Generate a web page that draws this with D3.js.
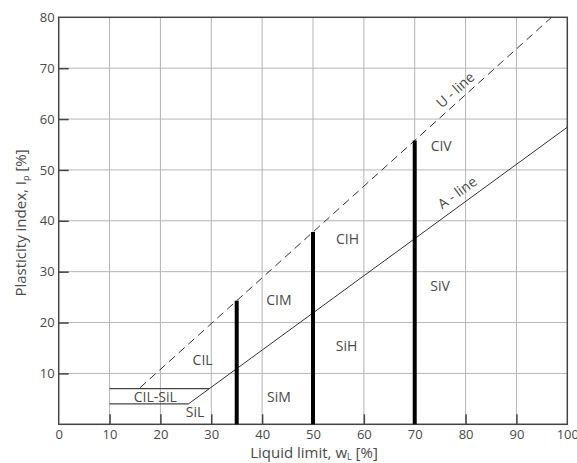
<!DOCTYPE html>
<html lang="en">
<head>
    <meta charset="UTF-8">
    <script src="https://d3js.org/d3.v7.min.js"></script>
    <title>Plasticity chart</title>
    <style>
        body {
            margin: 0;
            padding: 0;
            background-color: white;
            font-family: "Open Sans", Arial, sans-serif;
        }
        svg text {
            fill: #4a4a4a;
        }
    </style>
</head>
<body>
    <svg id="chart" width="577" height="463"></svg>
    <script>
        // axis ticks
        const xTicks = [0, 10, 20, 30, 40, 50, 60, 70, 80, 90, 100];
        const yTicks = [10, 20, 30, 40, 50, 60, 70, 80];

        // U-line and A-line (liquid limit, plasticity index)
        const uLine = [[16, 7.2], [96.9, 80]];
        const aLine = [[25.5, 4.0], [100, 58.4]];

        // horizontal limits of the CL-ML band
        const bandLines = [
            [[10, 7], [29.6, 7]],
            [[10, 4], [25.5, 4]]
        ];

        // thick boundaries: liquid limit, top plasticity index (on U-line)
        const boundaries = [[35, 24.3], [50, 37.8], [70, 55.8]];

        // zone labels
        const zones = [
            {name: "CIL", x: 28.3, y: 12.8},
            {name: "CIL-SiL", x: 19.0, y: 5.5},
            {name: "SiL", x: 26.8, y: 2.5},
            {name: "CIM", x: 43.3, y: 24.5},
            {name: "SiM", x: 43.3, y: 5.5},
            {name: "CIH", x: 56.8, y: 36.5},
            {name: "SiH", x: 56.6, y: 15.5},
            {name: "CIV", x: 75.2, y: 54.8},
            {name: "SiV", x: 75.0, y: 27.2}
        ];

        const lineLabels = [
            {name: "U - line", x: 77.9, y: 65.8, line: uLine},
            {name: "A - line", x: 78.3, y: 45.6, line: aLine}
        ];

        const svg = d3.select("#chart");
        const mLeft = 58.7, mRight = 567.3, mTop = 17.3, mBottom = 424.3;

        const x = d3.scaleLinear().domain([0, 100]).range([mLeft, mRight]);
        const y = d3.scaleLinear().domain([0, 80]).range([mBottom, mTop]);

        // grid
        svg.append("g")
            .selectAll("line")
            .data(xTicks.slice(1, -1))
            .join("line")
            .attr("x1", d => x(d)).attr("x2", d => x(d))
            .attr("y1", mTop).attr("y2", mBottom)
            .attr("stroke", "#b5b5b5").attr("stroke-width", 1);

        svg.append("g")
            .selectAll("line")
            .data(yTicks.slice(0, -1))
            .join("line")
            .attr("x1", mLeft).attr("x2", mRight)
            .attr("y1", d => y(d)).attr("y2", d => y(d))
            .attr("stroke", "#b5b5b5").attr("stroke-width", 1);

        // axes (ticks point inward)
        const xAxis = svg.append("g")
            .attr("transform", `translate(0,${mBottom})`)
            .call(d3.axisBottom(x).tickValues(xTicks).tickSizeInner(-10).tickSizeOuter(0).tickPadding(2));
        const yAxis = svg.append("g")
            .attr("transform", `translate(${mLeft},0)`)
            .call(d3.axisLeft(y).tickValues(yTicks).tickSizeInner(-10).tickSizeOuter(0).tickPadding(4));

        [xAxis, yAxis].forEach(a => {
            a.select(".domain").remove();
            a.selectAll(".tick line").attr("stroke", "#444").attr("stroke-width", 1.5);
            a.selectAll(".tick text")
                .attr("font-size", 13)
                .attr("font-family", "'Open Sans', Arial, sans-serif")
                .attr("fill", "#4a4a4a");
        });
        xAxis.selectAll(".tick text").attr("dy", "0.95em");
        xAxis.selectAll(".tick").filter(d => d === 0 || d === 100).select("line").remove();
        yAxis.selectAll(".tick").filter(d => d === 80).select("line").remove();

        // frame
        svg.append("rect")
            .attr("x", mLeft).attr("y", mTop)
            .attr("width", mRight - mLeft).attr("height", mBottom - mTop)
            .attr("fill", "none")
            .attr("stroke", "#444").attr("stroke-width", 1.5);

        const path = d3.line().x(d => x(d[0])).y(d => y(d[1]));

        // U-line (dashed)
        svg.append("path")
            .attr("d", path(uLine))
            .attr("fill", "none")
            .attr("stroke", "#333").attr("stroke-width", 1)
            .attr("stroke-dasharray", "8,5");

        // A-line
        svg.append("path")
            .attr("d", path(aLine))
            .attr("fill", "none")
            .attr("stroke", "#333").attr("stroke-width", 1);

        // CL-ML band
        svg.append("g")
            .selectAll("path")
            .data(bandLines)
            .join("path")
            .attr("d", d => path(d))
            .attr("fill", "none")
            .attr("stroke", "#444").attr("stroke-width", 1.3);

        // thick boundaries
        svg.append("g")
            .selectAll("line")
            .data(boundaries)
            .join("line")
            .attr("x1", d => x(d[0])).attr("x2", d => x(d[0]))
            .attr("y1", y(0)).attr("y2", d => y(d[1]))
            .attr("stroke", "#000").attr("stroke-width", 4);

        // zone labels
        svg.append("g")
            .selectAll("text")
            .data(zones)
            .join("text")
            .attr("x", d => x(d.x)).attr("y", d => y(d.y))
            .attr("text-anchor", "middle")
            .attr("dominant-baseline", "central")
            .attr("font-size", 14)
            .text(d => d.name);

        // line labels, rotated along the lines
        svg.append("g")
            .selectAll("text")
            .data(lineLabels)
            .join("text")
            .attr("text-anchor", "middle")
            .attr("dominant-baseline", "central")
            .attr("font-size", 14)
            .attr("transform", d => {
                const [p0, p1] = d.line;
                const ang = Math.atan2(y(p1[1]) - y(p0[1]), x(p1[0]) - x(p0[0])) * 180 / Math.PI;
                return `translate(${x(d.x)},${y(d.y)}) rotate(${ang})`;
            })
            .text(d => d.name);

        // axis titles
        const xTitle = svg.append("text")
            .attr("x", 314).attr("y", 458)
            .attr("text-anchor", "middle")
            .attr("font-size", 15);
        xTitle.append("tspan").text("Liquid limit, w");
        xTitle.append("tspan").attr("font-size", 9).attr("dy", 2).text("L");
        xTitle.append("tspan").attr("dy", -2).text(" [%]");

        const yTitle = svg.append("text")
            .attr("transform", "translate(26,223) rotate(-90)")
            .attr("text-anchor", "middle")
            .attr("font-size", 15);
        yTitle.append("tspan").text("Plasticity index, I");
        yTitle.append("tspan").attr("font-size", 9).attr("dy", 3).text("p");
        yTitle.append("tspan").attr("dy", -3).text(" [%]");
    </script>
</body>
</html>
